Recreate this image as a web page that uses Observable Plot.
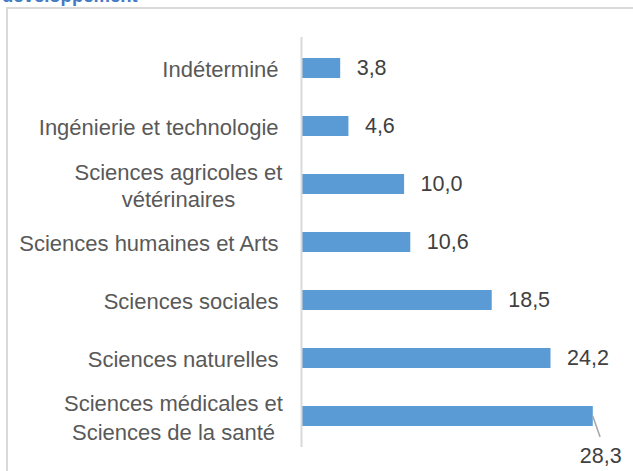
<!DOCTYPE html>
<html>
<head>
<meta charset="utf-8">
<script src="https://cdn.jsdelivr.net/npm/d3@7"></script>
<script src="https://cdn.jsdelivr.net/npm/@observablehq/plot@0.6"></script>
<style>
  html, body { margin: 0; padding: 0; background: #fff; }
  #wrap { position: relative; width: 633px; height: 471px; overflow: hidden; background: #fff; }
  #frame { position: absolute; left: 6px; top: 7px; width: 1000px; height: 1000px; border: 2px solid #D9D9D9; box-sizing: border-box; }
  #title { position: absolute; left: 2px; top: -15px; font-family: "Liberation Sans", Arial, sans-serif; font-weight: bold; font-size: 18.5px; color: #4479C4; white-space: nowrap; }
  #chart { position: absolute; left: 0; top: 0; }
</style>
</head>
<body>
<div id="wrap">
  <div id="frame"></div>
  <div id="title">développement</div>
  <div id="chart"></div>
</div>
<script>
const categories = [
  "Indéterminé",
  "Ingénierie et technologie",
  "Sciences agricoles et\nvétérinaires",
  "Sciences humaines et Arts",
  "Sciences sociales",
  "Sciences naturelles",
  "Sciences médicales et\nSciences de la santé"
];
const values = [3.8, 4.6, 10.0, 10.6, 18.5, 24.2, 28.3];
const valueLabels = ["3,8", "4,6", "10,0", "10,6", "18,5", "24,2", "28,3"];

const data = categories.map((c, i) => ({category: c, value: values[i], label: valueLabels[i], i}));
const single = data.filter(d => !d.category.includes("\n"));
const agri = data.filter(d => d.i === 2);
const medic = data.filter(d => d.i === 6);
const inside = data.filter(d => d.i !== 6);
const below = data.filter(d => d.i === 6);

const font = "Liberation Sans, Arial, sans-serif";
const labelColor = "#595959";
const valueColor = "#404040";

const chart = Plot.plot({
  width: 633,
  height: 471,
  marginLeft: 301,
  marginRight: 22.7,
  marginTop: 37,
  marginBottom: 24,
  style: {fontFamily: font, background: "transparent", overflow: "visible"},
  x: {domain: [0, 30], axis: null},
  y: {domain: categories, axis: null, paddingInner: 0.66, paddingOuter: 0.33},
  marks: [
    Plot.barX(data, {x: "value", y: "category", fill: "#5B9BD5"}),
    Plot.ruleX([0], {stroke: "#D9D9D9", strokeWidth: 2}),
    Plot.text(single, {x: () => 0, y: "category", text: "category", textAnchor: "end", dx: -23, fontSize: 22, fill: labelColor, lineHeight: 1.22}),
    Plot.text(agri, {x: () => 0, y: "category", text: "category", textAnchor: "middle", dx: -123, fontSize: 22, fill: labelColor, lineHeight: 1.22}),
    Plot.text(medic, {x: () => 0, y: "category", text: "category", textAnchor: "middle", dx: -128, fontSize: 22, fill: labelColor, lineHeight: 1.28}),
    Plot.text(inside, {x: "value", y: "category", text: "label", textAnchor: "start", dx: 16, fontSize: 21.5, fill: valueColor}),
    Plot.text(below, {x: "value", y: "category", text: "label", textAnchor: "middle", dx: 7.5, dy: 40, fontSize: 21.5, fill: valueColor})
  ]
});

document.getElementById("chart").appendChild(chart);

// leader line for the label placed below its bar, from the library's scales
const xs = chart.scale("x"), ys = chart.scale("y");
const d = below[0];
const x0 = xs.apply(d.value);
const y0 = ys.apply(d.category) + ys.bandwidth / 2;
d3.select(chart).append("line")
  .attr("x1", x0).attr("y1", y0)
  .attr("x2", x0 + 7.3).attr("y2", y0 + 21)
  .attr("stroke", "#A6A6A6").attr("stroke-width", 1.5);
</script>
</body>
</html>
